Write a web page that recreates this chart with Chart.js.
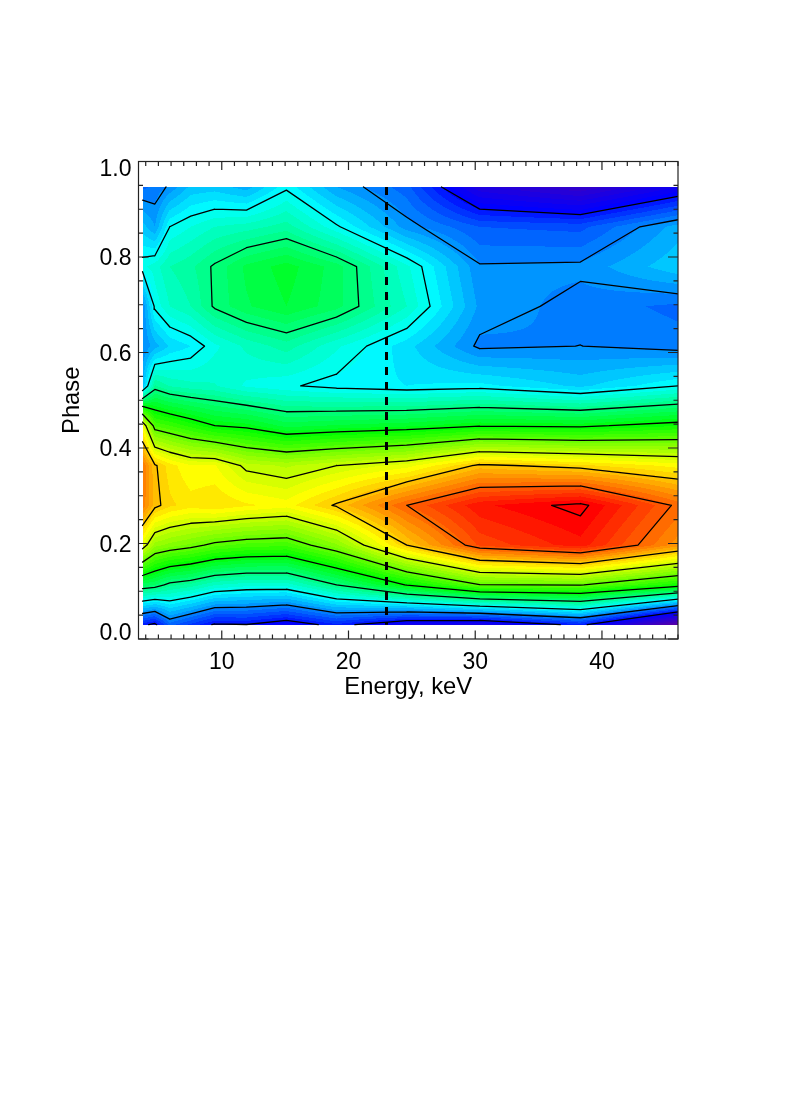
<!DOCTYPE html>
<html>
<head>
<meta charset="utf-8">
<style>html,body{margin:0;padding:0;background:#fff}canvas{display:block}</style>
<script src="https://cdn.jsdelivr.net/npm/chart.js@4"></script>
</head>
<body>
<canvas id="c" width="789" height="1116"></canvas>
<script>
// Energy bins (keV) and phase bins
const energies = [3.75,4.72,5.9,7.55,9.45,11.95,15.1,19.05,24.6,30.35,38.3,46.0];
const phases = [0.03,0.1133,0.1967,0.28,0.3633,0.4467,0.53,0.6133,0.6967,0.78,0.8633,0.9467];
// Contour levels (arbitrary intensity units)
const levels = [1,2,3,4,5,6,7,8,9,10];
// One column of intensity per energy bin, bottom phase first
const col0  = [1.1,4.3,7.27,8.75,8.8,7.46,2.4,2.0,2.0,3.15,2.5,1.75];
const col1  = [0.9,4.2,6.5,8.1,8.05,5.77,3.83,2.3,3.06,3.3,2.2,1.85];
const col2  = [1.7,3.88,6.32,7.85,7.7,5.6,3.58,2.63,3.4,3.6,3.0,2.05];
const col3  = [1.35,3.73,6.15,7.7,7.42,5.32,3.47,2.8,3.6,3.75,3.2,2.45];
const col4  = [0.95,3.41,5.88,7.8,7.42,5.0,3.42,3.15,4.05,4.05,3.4,2.5];
const col5  = [0.99,3.28,5.72,7.64,6.9,4.89,3.16,3.45,4.37,4.45,3.5,2.3];
const col6  = [0.72,3.28,5.66,7.5,6.76,4.52,3.04,3.7,4.6,4.7,3.7,2.94];
const col7  = [1.16,4.0,6.36,8.05,7.0,4.63,2.9,3.24,4.28,4.3,3.05,2.2];
const col8  = [0.55,5.03,8.0,9.0,7.3,4.75,2.8,2.68,3.4,3.25,2.1,1.68];
const col9  = [0.4,5.97,9.25,9.75,8.08,4.97,2.87,1.94,2.15,2.03,1.6,0.25];
const col10 = [1.15,6.03,9.72,10.1,7.85,4.92,2.55,2.003,1.9,2.06,1.53,-0.2];
const col11 = [-1.0,5.24,8.5,8.92,7.52,5.19,3.0,1.88,1.75,2.55,2.3,0.6];
const columns = [col0,col1,col2,col3,col4,col5,col6,col7,col8,col9,col10,col11];
// Vertical marker
const markerEnergy = 23;
// Tick values
const xMajor = [10,20,30,40];
const yMajor = [0,0.2,0.4,0.6,0.8,1.0];
const xMinorStep = 1, yMinorStep = 0.05;
// Colour ramp: value -> rgb
const rampV = [-1,0.9,2.95,5.06,7.49,9.92,11];
const rampC = [[90,0,160],[0,0,255],[0,255,255],[0,255,0],[255,255,0],[255,0,0],[255,0,0]];
const bandsPerLevel = 5;

function colorOf(v){
  const q = (Math.floor(v*bandsPerLevel)+0.5)/bandsPerLevel;
  let i = 0;
  while(i < rampV.length-2 && q > rampV[i+1]) i++;
  const t = Math.max(0,Math.min(1,(q-rampV[i])/(rampV[i+1]-rampV[i])));
  return [0,1,2].map(k=>Math.round(rampC[i][k]+(rampC[i+1][k]-rampC[i][k])*t));
}
function locate(arr,val){
  let i=0; while(i<arr.length-2 && val>arr[i+1]) i++;
  return [i,(val-arr[i])/(arr[i+1]-arr[i])];
}
// Marching squares over the grid: one scatter-line dataset per level
function contourPoints(L){
  const pts=[];
  const cross=(x1,y1,v1,x2,y2,v2)=>{const t=(L-v1)/(v2-v1);return {x:x1+(x2-x1)*t,y:y1+(y2-y1)*t};};
  for(let i=0;i<energies.length-1;i++){
    for(let j=0;j<phases.length-1;j++){
      const x0=energies[i],x1=energies[i+1],y0=phases[j],y1=phases[j+1];
      const a=columns[i][j],b=columns[i+1][j],c=columns[i+1][j+1],d=columns[i][j+1];
      const e=[];
      const bottom=(a<L)!==(b<L),right=(b<L)!==(c<L),top=(c<L)!==(d<L),left=(d<L)!==(a<L);
      const pB=bottom?cross(x0,y0,a,x1,y0,b):null,pR=right?cross(x1,y0,b,x1,y1,c):null;
      const pT=top?cross(x1,y1,c,x0,y1,d):null,pL=left?cross(x0,y1,d,x0,y0,a):null;
      if(bottom&&right&&top&&left){
        const m=(a+b+c+d)/4;
        if((m<L)===(a<L)){e.push([pB,pR],[pT,pL]);}else{e.push([pB,pL],[pR,pT]);}
      }else{
        const p=[pB,pR,pT,pL].filter(Boolean);
        if(p.length===2)e.push([p[0],p[1]]);
      }
      e.forEach(s=>{pts.push(s[0],s[1],{x:s[1].x,y:null});});
    }
  }
  return pts;
}

const fieldPlugin={
  id:'field',
  beforeDatasetsDraw(chart){
    const X=chart.scales.x,Y=chart.scales.y,ctx=chart.ctx;
    const px0=Math.round(X.getPixelForValue(energies[0])),px1=Math.round(X.getPixelForValue(energies[energies.length-1]));
    const py0=Math.round(Y.getPixelForValue(phases[phases.length-1])),py1=Math.round(Y.getPixelForValue(phases[0]));
    const w=px1-px0,h=py1-py0;
    const off=document.createElement('canvas');off.width=w;off.height=h;
    const oc=off.getContext('2d'),img=oc.createImageData(w,h);
    for(let py=0;py<h;py++){
      const [j,tj]=locate(phases,Y.getValueForPixel(py0+py+0.5));
      for(let px=0;px<w;px++){
        const [i,ti]=locate(energies,X.getValueForPixel(px0+px+0.5));
        const v=(columns[i][j]*(1-ti)+columns[i+1][j]*ti)*(1-tj)+(columns[i][j+1]*(1-ti)+columns[i+1][j+1]*ti)*tj;
        const col=colorOf(v),o=(py*w+px)*4;
        img.data[o]=col[0];img.data[o+1]=col[1];img.data[o+2]=col[2];img.data[o+3]=255;
      }
    }
    oc.putImageData(img,0,0);
    ctx.drawImage(off,px0,py0);
  }
};
const framePlugin={
  id:'frame',
  afterDraw(chart){
    const X=chart.scales.x,Y=chart.scales.y,ctx=chart.ctx,a=chart.chartArea;
    ctx.save();
    ctx.strokeStyle='#222';ctx.lineWidth=1.2;
    ctx.strokeRect(a.left,a.top,a.right-a.left,a.bottom-a.top);
    ctx.beginPath();
    const seg=(x1,y1,x2,y2)=>{ctx.moveTo(x1,y1);ctx.lineTo(x2,y2);};
    for(let e=Math.ceil(X.min);e<=X.max;e+=xMinorStep){
      const p=X.getPixelForValue(e),len=xMajor.includes(e)?8.5:4.5;
      seg(p,a.bottom,p,a.bottom-len);seg(p,a.top,p,a.top+len);
    }
    for(let k=0;k<=20;k++){
      const val=k*yMinorStep,p=Y.getPixelForValue(val),len=(k%4===0)?10:4.5;
      seg(a.left,p,a.left+len,p);seg(a.right,p,a.right-len,p);
    }
    ctx.stroke();
    ctx.restore();
  }
};

const datasets=levels.map(L=>({
  label:'L'+L,data:contourPoints(L),showLine:true,spanGaps:false,pointRadius:0,
  borderColor:'#000',borderWidth:1.3,borderCapStyle:'round',tension:0
}));
datasets.push({
  label:'marker',data:[{x:markerEnergy,y:phases[phases.length-1]},{x:markerEnergy,y:phases[0]}],
  showLine:true,pointRadius:0,borderColor:'#000',borderWidth:3,borderDash:[8,7]
});

new Chart(document.getElementById('c'),{
  type:'scatter',
  data:{datasets},
  plugins:[fieldPlugin,framePlugin],
  options:{
    responsive:false,animation:false,devicePixelRatio:1,
    layout:{padding:{left:58.5,top:161.5,right:111,bottom:1116-702}},
    plugins:{legend:{display:false},tooltip:{enabled:false}},
    scales:{
      x:{
        type:'linear',min:3.43,max:46,
        afterFit(s){s.height=63;},
        afterBuildTicks(s){s.ticks=xMajor.map(v=>({value:v}));},
        grid:{display:false,drawTicks:false},border:{display:false},
        ticks:{color:'#000',font:{family:'"Liberation Sans"',size:23},padding:10,maxRotation:0,autoSkip:false},
        title:{display:true,text:'Energy, keV',color:'#000',font:{family:'"Liberation Sans"',size:23.8},padding:0}
      },
      y:{
        type:'linear',min:0,max:1,
        afterFit(s){s.width=80;},
        afterBuildTicks(s){s.ticks=yMajor.map(v=>({value:v}));},
        grid:{display:false,drawTicks:false},border:{display:false},
        ticks:{
          color:'#000',padding:7,autoSkip:false,
          font(ctx){
            const v=ctx.tick?ctx.tick.value:0.5;
            return {family:'"Liberation Sans"',size:23,lineHeight:v===0?'11px':v===1?'17px':'4px'};
          },
          callback(v){
            const t=v.toFixed(1);
            return v===0?[t,'']:['',t];
          }
        },
        title:{display:true,text:'Phase',color:'#000',font:{family:'"Liberation Sans"',size:23.8},padding:0}
      }
    }
  }
});
</script>
</body>
</html>
